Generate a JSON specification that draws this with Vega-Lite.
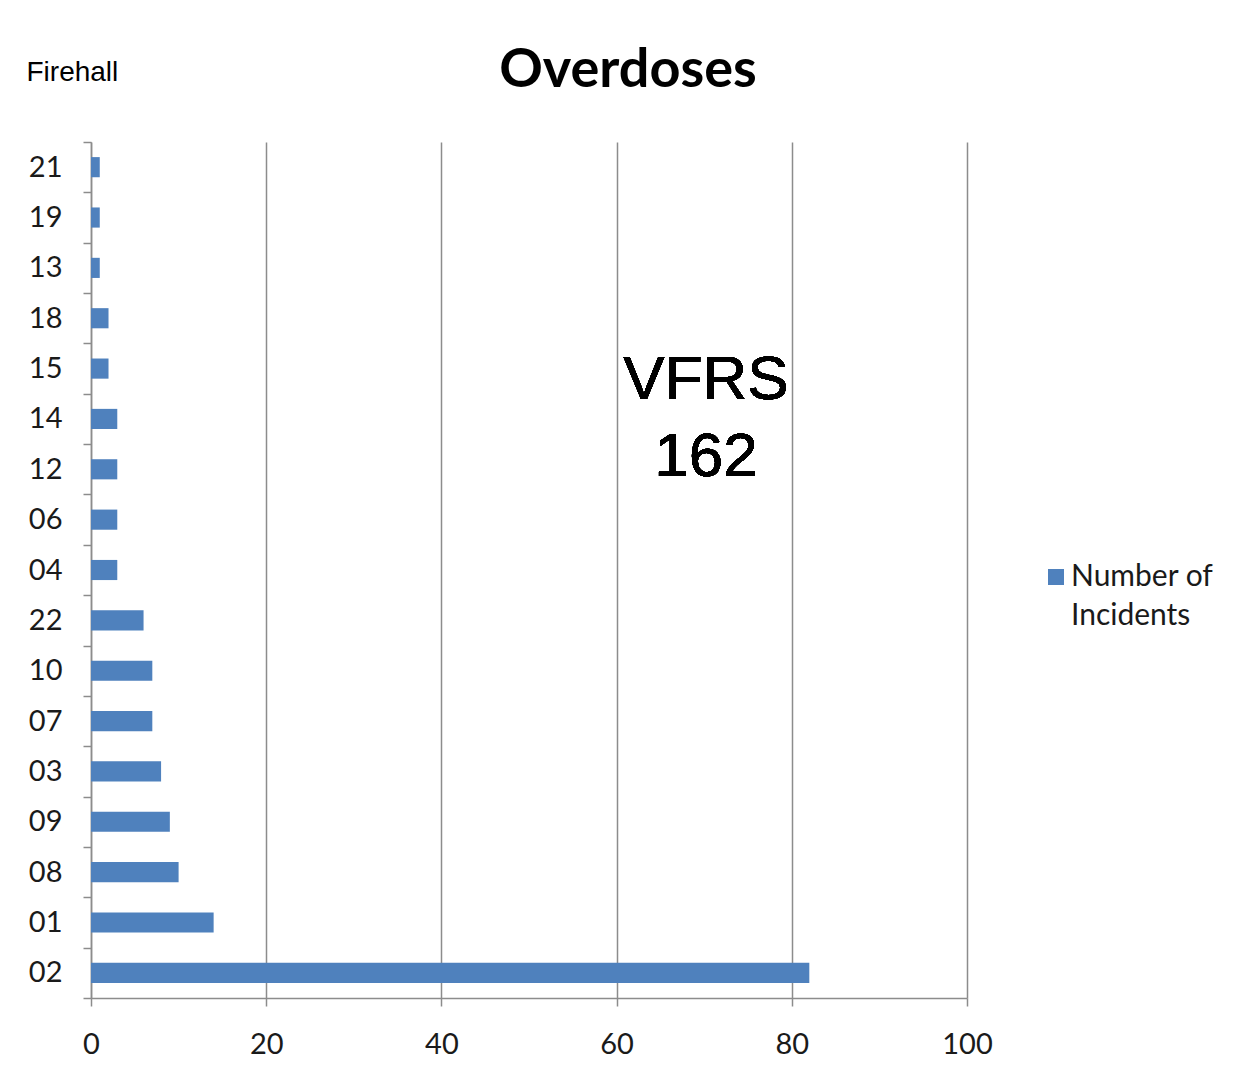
{
  "$schema": "https://vega.github.io/schema/vega-lite/v6.json",
  "width": 876,
  "height": 856,
  "autosize": {"type": "none"},
  "padding": {"left": 91, "top": 142, "right": 266, "bottom": 78},
  "background": "white",
  "title": {
    "text": "Overdoses",
    "font": "Lato",
    "fontSize": 54,
    "fontWeight": "bold",
    "color": "#000000",
    "anchor": "middle",
    "frame": "group",
    "dx": 99,
    "offset": 52,
    "dy": 92
  },
  "data": {
    "values": [
      {"firehall": "21", "incidents": 1, "series": "Number of Incidents"},
      {"firehall": "19", "incidents": 1, "series": "Number of Incidents"},
      {"firehall": "13", "incidents": 1, "series": "Number of Incidents"},
      {"firehall": "18", "incidents": 2, "series": "Number of Incidents"},
      {"firehall": "15", "incidents": 2, "series": "Number of Incidents"},
      {"firehall": "14", "incidents": 3, "series": "Number of Incidents"},
      {"firehall": "12", "incidents": 3, "series": "Number of Incidents"},
      {"firehall": "06", "incidents": 3, "series": "Number of Incidents"},
      {"firehall": "04", "incidents": 3, "series": "Number of Incidents"},
      {"firehall": "22", "incidents": 6, "series": "Number of Incidents"},
      {"firehall": "10", "incidents": 7, "series": "Number of Incidents"},
      {"firehall": "07", "incidents": 7, "series": "Number of Incidents"},
      {"firehall": "03", "incidents": 8, "series": "Number of Incidents"},
      {"firehall": "09", "incidents": 9, "series": "Number of Incidents"},
      {"firehall": "08", "incidents": 10, "series": "Number of Incidents"},
      {"firehall": "01", "incidents": 14, "series": "Number of Incidents"},
      {"firehall": "02", "incidents": 82, "series": "Number of Incidents"}
    ]
  },
  "config": {
    "view": {"stroke": null},
    "axis": {
      "labelFont": "Lato",
      "labelFontSize": 29,
      "labelColor": "#1a1a1a",
      "domainColor": "#8c8c8c",
      "tickColor": "#8c8c8c",
      "gridColor": "#8c8c8c",
      "domainWidth": 1.5,
      "tickWidth": 1.5,
      "gridWidth": 1.5
    }
  },
  "encoding": {
    "y": {
      "field": "firehall",
      "type": "nominal",
      "scale": {
        "domain": ["21", "19", "13", "18", "15", "14", "12", "06", "04", "22", "10", "07", "03", "09", "08", "01", "02"],
        "paddingInner": 0,
        "paddingOuter": 0
      },
      "axis": {
        "title": "Firehall",
        "titleFont": "Liberation Sans",
        "titleFontSize": 28,
        "titleFontWeight": "normal",
        "titleColor": "#000000",
        "titleAngle": 0,
        "titleAlign": "left",
        "titleBaseline": "alphabetic",
        "titleX": -65,
        "titleY": -62,
        "tickBand": "extent",
        "tickSize": 8,
        "labelPadding": 21,
        "grid": false
      }
    }
  },
  "layer": [
    {
      "mark": {"type": "bar", "height": {"band": 0.4}},
      "encoding": {
        "x": {
          "field": "incidents",
          "type": "quantitative",
          "scale": {"domain": [0, 100], "nice": false},
          "axis": {
            "title": null,
            "values": [0, 20, 40, 60, 80, 100],
            "grid": true,
            "tickSize": 8,
            "labelPadding": 24,
            "labelBaseline": "top",
            "labelFlush": false
          }
        },
        "color": {
          "field": "series",
          "type": "nominal",
          "scale": {"range": ["#4F81BD"]},
          "legend": {
            "title": null,
            "orient": "none",
            "legendX": 950,
            "legendY": 420,
            "symbolType": "square",
            "symbolSize": 256,
            "symbolStrokeWidth": 0,
            "labelFont": "Lato",
            "labelFontSize": 30,
            "labelColor": "#1a1a1a",
            "labelLimit": 300,
            "labelOffset": 0,
            "labelExpr": "['Number of', 'Incidents']",
            "encode": {
              "labels": {
                "update": {
                  "lineHeight": {"value": 39}
                }
              }
            }
          }
        }
      }
    },
    {
      "mark": {
        "type": "text",
        "text": ["VFRS", "162"],
        "font": "Liberation Sans",
        "fontSize": 62,
        "lineHeight": 77,
        "align": "center",
        "baseline": "middle",
        "dy": -39,
        "color": "#000000"
      },
      "encoding": {
        "x": {"datum": 70.2, "type": "quantitative"},
        "y": {"datum": "14", "type": "nominal"}
      }
    }
  ]
}
